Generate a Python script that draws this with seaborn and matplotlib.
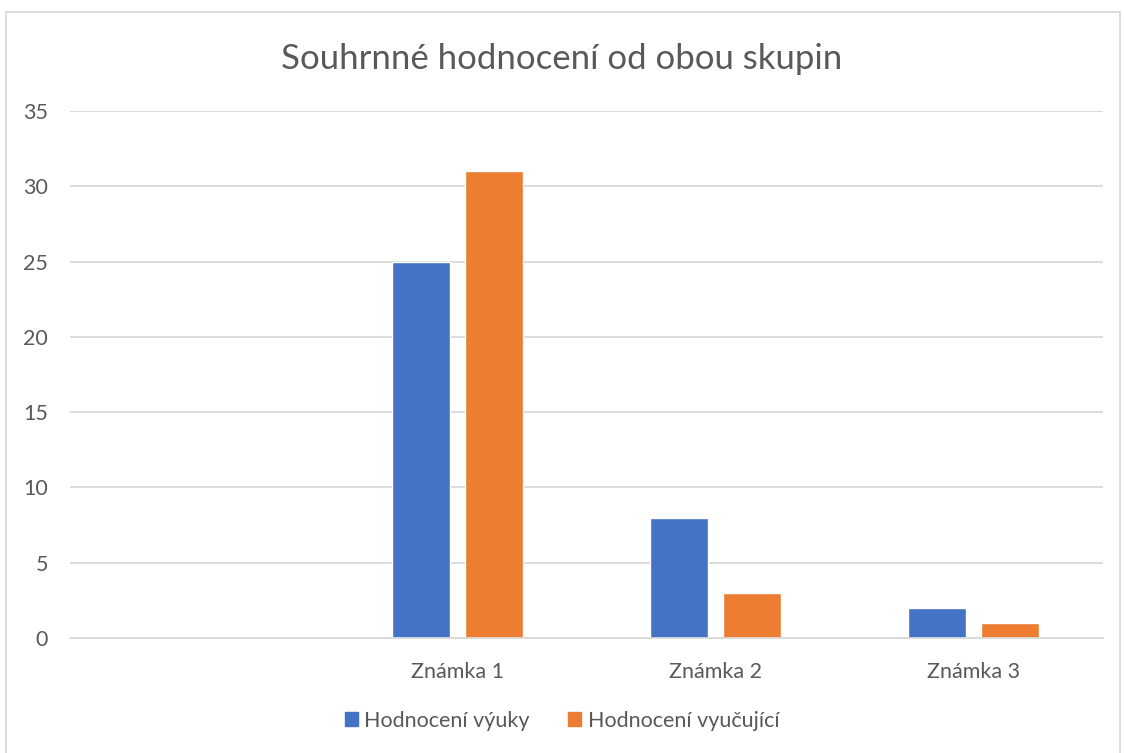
import matplotlib
matplotlib.use("Agg")
import matplotlib.pyplot as plt
import matplotlib.patches as mpatches
import seaborn as sns
import pandas as pd

# data
categories = ["", "Známka 1", "Známka 2", "Známka 3"]
znamky = ["Známka 1", "Známka 2", "Známka 3"]
hodnoceni_vyuky = [25, 8, 2]
hodnoceni_vyucujici = [31, 3, 1]
series = ["Hodnocení výuky", "Hodnocení vyučující"]
colors = ["#4472C4", "#ED7D31"]

df = pd.DataFrame({
    "Známka": znamky * 2,
    "Počet": hodnoceni_vyuky + hodnoceni_vyucujici,
    "Série": [series[0]] * 3 + [series[1]] * 3,
})

sns.set_theme(style="white")
plt.rcParams["font.family"] = ["Lato", "DejaVu Sans"]
text_col = "#595959"

fig = plt.figure(figsize=(11.24, 7.53), dpi=100)
ax = fig.add_axes([0.0623, 0.1527, 0.9190, 0.6999])

sns.barplot(data=df, x="Známka", y="Počet", hue="Série", order=categories,
            hue_order=series, palette=colors, width=0.566, gap=0.205,
            saturation=1, ax=ax)

ax.set_ylim(0, 35)
ax.set_yticks(range(0, 36, 5))
ax.set_xlim(-0.5, 3.5)
ax.yaxis.grid(True, color="#D9D9D9", linewidth=1.3)
ax.set_axisbelow(True)
for s in ["top", "right", "left"]:
    ax.spines[s].set_visible(False)
ax.spines["bottom"].set_color("#D9D9D9")
ax.spines["bottom"].set_linewidth(1.3)
ax.tick_params(axis="both", length=0, labelsize=15.5, colors=text_col)
ax.tick_params(axis="y", pad=16)
ax.tick_params(axis="x", pad=17)
ax.set_xlabel("")
ax.set_ylabel("")

ax.get_legend().remove()
handles = [mpatches.Patch(color=c, label=l) for c, l in zip(colors, series)]
fig.legend(handles=handles, loc="center", bbox_to_anchor=(0.5, 0.043), ncol=2,
           frameon=False, fontsize=15.5, labelcolor=text_col, handlelength=0.6,
           handleheight=0.6, handletextpad=0.3, columnspacing=1.8)

fig.text(0.5, 0.922, "Souhrnné hodnocení od obou skupin", ha="center",
         va="center", fontsize=25, color=text_col)

# chart border like in Excel
fig.patches.append(mpatches.Rectangle((6 / 1124, -0.01), 1114 / 1124, 1 - 12 / 753 + 0.01,
                                      transform=fig.transFigure, fill=False,
                                      edgecolor="#D9D9D9", linewidth=1.3))

fig.savefig("out.png", dpi=100, facecolor="white")
